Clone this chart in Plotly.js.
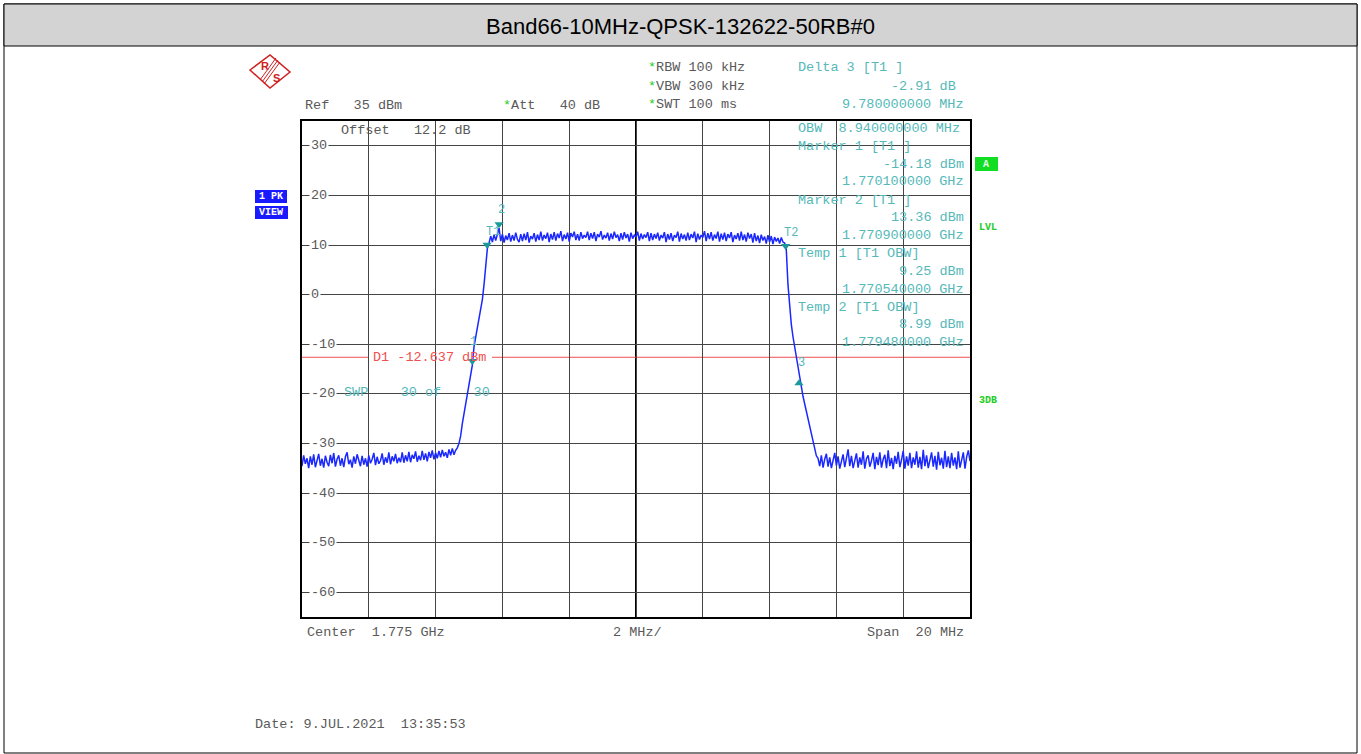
<!DOCTYPE html>
<html>
<head>
<meta charset="utf-8">
<script src="https://cdn.plot.ly/plotly-3.0.1.min.js"></script>
<style>html,body{margin:0;padding:0;background:#fff;}#chart{width:1361px;height:754px;}</style>
</head>
<body>
<div id="chart"></div>
<script>
// ---- Data ----
const chartTitle = 'Band66-10MHz-QPSK-132622-50RB#0';
const startMHz = 1765, stopMHz = 1785;           // Center 1.775 GHz, Span 20 MHz
const yTickValues = [30, 20, 10, 0, -10, -20, -30, -40, -50, -60];
const yTickLabels = ['30', '20', '10', '0', '-10', '-20', '-30', '-40', '-50', '-60'];

const leftFloor = [-34.6,-32.4,-34.1,-33.0,-35.0,-32.6,-34.3,-32.2,-34.8,-33.4,-32.1,-34.5,-33.1,-34.9,-32.5,-33.8,-34.6,-32.3,-34.0,-31.9,
  -34.7,-33.2,-32.4,-34.5,-33.0,-34.8,-32.7,-31.8,-34.2,-33.3,-34.9,-32.6,-34.1,-32.2,-33.7,-34.6,-32.5,-34.3,-33.0,-34.7,
  -32.4,-34.0,-33.2,-31.9,-34.4,-32.7,-34.1,-33.5,-32.0,-34.3,-32.8,-33.9,-31.8,-34.2,-32.6,-33.6,-32.1,-34.0,-32.9,-33.8,
  -31.8,-33.9,-32.4,-33.6,-31.7,-33.8,-32.3,-33.1,-31.6,-33.7,-32.5,-33.4,-31.5,-33.3,-32.0,-33.6,-31.7,-32.9,-31.4,-33.2,
  -31.9,-33.0,-31.5,-32.8,-31.3,-32.6,-31.8,-32.9,-31.2,-32.4,-31.0,-32.3,-31.4,-30.9];
const risingEdge = [-30.0,-28.5,-26.0,-24.0,-22.0,-19.5,-17.5,-16.0,-14.2,-10.5,-8.5,-7.0,-5.0,-3.0,-1.0,2.0,6.0,9.3];
const channelTop = [10.4,11.8,10.6,12.1,10.9,12.3,13.4,10.8,12.2,10.5,11.9,11.0,12.4,10.7,12.0,10.9,12.5,11.1,10.6,12.2,
  10.8,12.3,11.0,12.6,10.5,11.8,11.2,12.4,10.7,12.1,11.0,12.7,10.9,12.0,11.3,12.5,10.6,12.2,11.1,12.6,
  10.9,12.3,11.4,12.8,10.8,12.1,11.2,12.5,10.7,12.4,11.6,12.7,11.0,12.2,10.9,12.6,11.3,12.0,11.5,12.7,
  11.0,12.4,11.3,12.6,10.8,12.2,11.6,12.8,11.1,12.0,11.4,12.5,10.9,12.3,11.2,12.7,11.5,12.1,10.8,12.4,
  11.1,12.6,11.4,12.2,10.7,12.5,11.3,12.0,11.6,12.7,10.9,12.3,11.2,12.1,11.5,12.6,10.8,12.4,11.0,12.2,
  11.3,12.5,10.9,12.0,11.4,12.6,10.6,12.2,11.1,12.4,10.8,12.0,11.5,12.7,10.7,12.3,11.2,12.1,10.9,12.5,
  11.0,12.2,11.4,12.7,10.6,12.3,11.1,12.0,11.5,12.8,10.8,12.4,11.2,12.6,10.9,12.1,11.3,12.7,10.7,12.3,
  11.1,12.5,10.8,12.2,11.4,12.6,10.6,12.0,11.2,12.4,10.9,12.7,11.0,12.1,10.7,12.5,11.3,12.2,10.5,12.4,
  10.8,11.9,10.4,12.1,10.9,11.7,10.3,12.0,10.6,11.8,10.2,11.6,10.7,11.4,10.3,11.5,10.6,10.4];
const fallingEdge = [9.0,2.0,-3.0,-6.0,-8.5,-10.5,-12.5,-15.0,-17.3,-19.0,-20.5,-22.0,-23.5,-25.0,-27.0,-28.5,-30.0,-31.5,-32.5];
const rightFloor = [-33.0,-34.6,-32.4,-34.9,-33.2,-32.1,-34.7,-32.8,-35.0,-33.3,-31.9,-34.5,-32.6,-35.1,-33.4,-32.2,-34.8,-33.0,-31.2,-34.6,
  -32.5,-35.0,-33.6,-32.0,-34.9,-32.8,-34.3,-31.6,-35.1,-33.1,-32.4,-34.7,-33.5,-31.9,-35.2,-32.7,-34.4,-31.8,-34.9,-33.2,
  -32.3,-35.0,-31.4,-34.6,-32.9,-35.2,-32.5,-34.1,-31.7,-34.8,-33.3,-31.5,-35.1,-32.6,-34.5,-31.9,-35.0,-32.8,-34.3,-31.6,
  -34.9,-32.7,-35.2,-31.3,-34.6,-32.4,-35.0,-33.1,-31.8,-34.7,-32.5,-35.3,-31.7,-34.4,-32.9,-35.1,-31.5,-34.8,-32.6,-35.0,
  -31.9,-34.5,-32.8,-35.2,-31.6,-34.9,-33.0,-31.8,-35.1,-32.7,-31.4,-33.6];

// markers (MHz, dBm)
const downMarkerFreq = [1770.1, 1770.9, 1770.54, 1779.48];   // Marker 1, Marker 2, T1, T2
const downMarkerLevel = [-14.18, 13.36, 9.25, 8.99];
const upMarkerFreq = [1779.88];                              // Delta 3
const upMarkerLevel = [-17.09];
const displayLine = -12.637;

// ---- Build ----
const level = [].concat(leftFloor, risingEdge, channelTop, fallingEdge, rightFloor);
const N = level.length;
const freq = level.map((_, i) => startMHz + i * (stopMHz - startMHz) / (N - 1));

const L = 302, R = 970, T = 121, B = 617;
const px = x => (x - L) / (R - L);
const py = y => (B - y) / (B - T);
const MONO = 'Liberation Mono, DejaVu Sans Mono, monospace';
const GREY = '#5a5a5a', TEAL = '#55b9b9', RED = '#f05050', GREEN = '#22cc22';

const ann = [];
function txt(text, x, y, anchor, color, size, extra) {
  ann.push(Object.assign({text: text, xref: 'paper', yref: 'paper', x: px(x), y: py(y),
    xanchor: anchor, yanchor: 'middle', showarrow: false,
    font: {family: MONO, size: size || 13.5, color: color}}, extra || {}));
}
const star = '<span style="color:' + GREEN + '">*</span>';
txt('Ref   35 dBm', 303, 105, 'left', GREY);
txt(star + 'Att   40 dB', 501, 105, 'left', GREY);
txt(star + 'RBW 100 kHz', 646, 68, 'left', GREY);
txt(star + 'VBW 300 kHz', 646, 86, 'left', GREY);
txt(star + 'SWT 100 ms', 646, 104, 'left', GREY);
txt('Delta 3 [T1 ]', 796, 68, 'left', TEAL);
txt('-2.91 dB', 958, 86, 'right', TEAL);
txt('9.780000000 MHz', 966, 104, 'right', TEAL);
txt('OBW  8.940000000 MHz', 796, 128, 'left', TEAL);
txt('Marker 1 [T1 ]', 796, 146, 'left', TEAL);
txt('-14.18 dBm', 966, 164, 'right', TEAL);
txt('1.770100000 GHz', 966, 182, 'right', TEAL);
txt('Marker 2 [T1 ]', 796, 200, 'left', TEAL);
txt('13.36 dBm', 966, 217, 'right', TEAL);
txt('1.770900000 GHz', 966, 235, 'right', TEAL);
txt('Temp 1 [T1 OBW]', 796, 253, 'left', TEAL);
txt('9.25 dBm', 966, 271, 'right', TEAL);
txt('1.770540000 GHz', 966, 289, 'right', TEAL);
txt('Temp 2 [T1 OBW]', 796, 307, 'left', TEAL);
txt('8.99 dBm', 966, 324, 'right', TEAL);
txt('1.779480000 GHz', 966, 342, 'right', TEAL);
txt('Offset   12.2 dB', 339, 130, 'left', GREY);
txt('D1 -12.637 dBm', 371, 357, 'left', RED);
txt('SWP    30 of    30', 342, 392, 'left', TEAL);
txt('T1', 484, 232, 'left', TEAL, 12);
txt('2', 496, 210, 'left', TEAL, 12);
txt('1', 468, 342, 'left', TEAL, 12);
txt('T2', 782, 233, 'left', TEAL, 12);
txt('3', 796, 363, 'left', TEAL, 12);
txt('Center  1.775 GHz', 305, 632, 'left', GREY);
txt('2 MHz/', 637, 632, 'center', GREY);
txt('Span  20 MHz', 966, 632, 'right', GREY);
txt('Date: 9.JUL.2021  13:35:53', 253, 724, 'left', GREY);
txt('<b>1 PK</b>', 257, 196, 'left', '#ffffff', 10);
txt('<b>VIEW</b>', 257, 212, 'left', '#ffffff', 10);
txt('<b>A</b>', 986, 164, 'center', '#e8ffe8', 10);
txt('<b>LVL</b>', 977, 227, 'left', GREEN, 10);
txt('<b>3DB</b>', 977, 400, 'left', GREEN, 10);
txt('<b>R</b>', 265, 66, 'center', '#cc2020', 11, {font: {family: 'Liberation Sans, Arial', size: 11, color: '#cc2020'}});
txt('<b>S</b>', 276, 78, 'center', '#cc2020', 11, {font: {family: 'Liberation Sans, Arial', size: 11, color: '#cc2020'}});
// y tick labels inside the frame
yTickValues.forEach((v, k) => {
  ann.push({text: yTickLabels[k], xref: 'paper', yref: 'y', x: px(309), y: v, xanchor: 'left', yanchor: 'middle',
    showarrow: false, bgcolor: '#ffffff', borderpad: 1, font: {family: MONO, size: 13.5, color: GREY}});
});

const logoRed = '#d02020';
const shapes = [
  // outer frame
  {type: 'rect', xref: 'paper', yref: 'paper', x0: px(4), x1: px(1357), y0: py(753), y1: py(4),
    line: {color: '#000', width: 1}, fillcolor: 'rgba(0,0,0,0)', layer: 'below'},
  // title band
  {type: 'rect', xref: 'paper', yref: 'paper', x0: px(4), x1: px(1357), y0: py(46), y1: py(4),
    line: {color: '#000', width: 1}, fillcolor: '#d3d3d3', layer: 'below'},
  // center vertical line
  {type: 'line', xref: 'x', yref: 'paper', x0: 1775, x1: 1775, y0: 0, y1: 1, line: {color: '#000', width: 2}, layer: 'between'},
  // display line D1 (split around its label)
  {type: 'line', xref: 'paper', yref: 'y', x0: 0, x1: px(369), y0: displayLine, y1: displayLine, line: {color: RED, width: 1}, layer: 'between'},
  {type: 'line', xref: 'paper', yref: 'y', x0: px(492), x1: 1, y0: displayLine, y1: displayLine, line: {color: RED, width: 1}, layer: 'between'},
  // blue labels
  {type: 'rect', xref: 'paper', yref: 'paper', x0: px(255), x1: px(287), y0: py(203), y1: py(190), line: {width: 0}, fillcolor: '#1a1aff'},
  {type: 'rect', xref: 'paper', yref: 'paper', x0: px(255), x1: px(288), y0: py(219), y1: py(206), line: {width: 0}, fillcolor: '#1a1aff'},
  // green A box
  {type: 'rect', xref: 'paper', yref: 'paper', x0: px(975), x1: px(998), y0: py(171), y1: py(157), line: {width: 0}, fillcolor: '#11dd22'},
  // R&S logo diamond
  {type: 'path', xref: 'paper', yref: 'paper',
    path: 'M ' + px(250) + ' ' + py(70) + ' L ' + px(270) + ' ' + py(55) + ' L ' + px(290) + ' ' + py(72) + ' L ' + px(270) + ' ' + py(88) + ' Z',
    line: {color: logoRed, width: 1.5}, fillcolor: 'rgba(0,0,0,0)'},
  {type: 'line', xref: 'paper', yref: 'paper', x0: px(278), x1: px(262), y0: py(60), y1: py(82), line: {color: logoRed, width: 1}},
  {type: 'line', xref: 'paper', yref: 'paper', x0: px(280), x1: px(264), y0: py(62), y1: py(84), line: {color: logoRed, width: 1}},
  {type: 'line', xref: 'paper', yref: 'paper', x0: px(276), x1: px(260), y0: py(58), y1: py(80), line: {color: logoRed, width: 1}}
];

const traces = [
  {x: freq, y: level, type: 'scatter', mode: 'lines', line: {color: '#1a28ff', width: 1.5}, hoverinfo: 'skip'},
  {x: downMarkerFreq, y: downMarkerLevel, type: 'scatter', mode: 'markers', hoverinfo: 'skip',
    marker: {symbol: 'triangle-up', angle: 180, standoff: 4, size: 8, color: '#1a9a9a'}},
  {x: upMarkerFreq, y: upMarkerLevel, type: 'scatter', mode: 'markers', hoverinfo: 'skip',
    marker: {symbol: 'triangle-up', angle: 0, standoff: 4, size: 8, color: '#1a9a9a'}}
];

const layout = {
  width: 1361, height: 754,
  margin: {l: L, r: 1361 - R, t: T, b: 754 - B, pad: 0},
  paper_bgcolor: '#ffffff', plot_bgcolor: '#ffffff',
  showlegend: false,
  title: {text: chartTitle, font: {family: 'Liberation Sans, Arial, sans-serif', size: 22, color: '#000'},
    x: 0.5, xref: 'container', xanchor: 'center', y: 1 - 26 / 754, yref: 'container', yanchor: 'middle'},
  xaxis: {range: [startMHz, stopMHz], tick0: startMHz, dtick: 2, showticklabels: false, ticks: '',
    showgrid: true, gridcolor: '#444', gridwidth: 1, zeroline: false,
    showline: true, mirror: true, linecolor: '#000', linewidth: 2},
  yaxis: {range: [-65, 35], tick0: 0, dtick: 10, showticklabels: false, ticks: '',
    showgrid: true, gridcolor: '#444', gridwidth: 1, zeroline: false,
    showline: true, mirror: true, linecolor: '#000', linewidth: 2},
  annotations: ann,
  shapes: shapes
};

Plotly.newPlot('chart', traces, layout, {staticPlot: true, displayModeBar: false});
</script>
</body>
</html>
